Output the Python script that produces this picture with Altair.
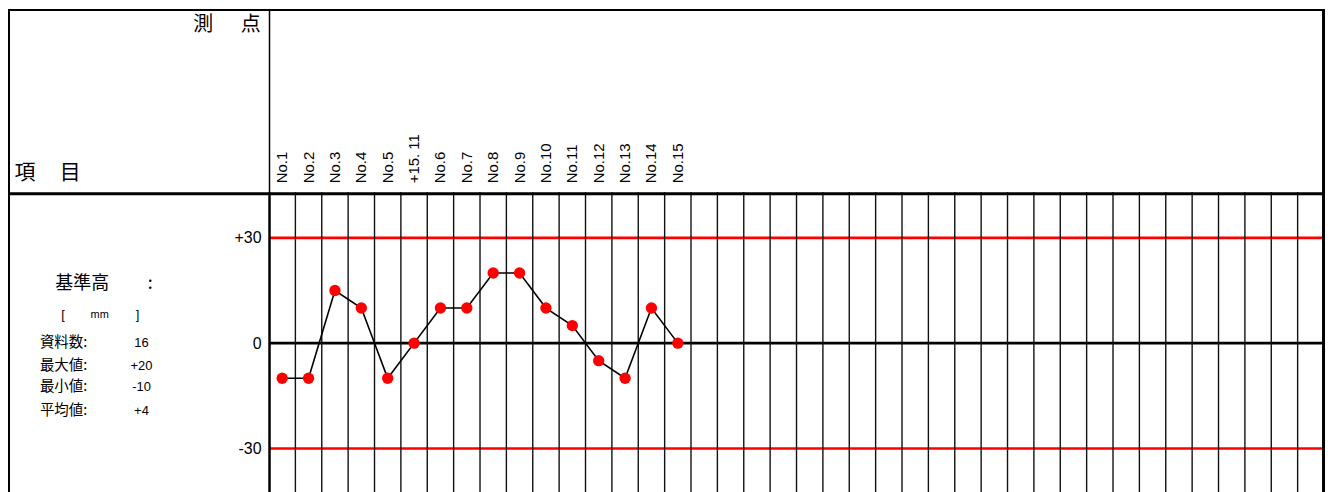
import altair as alt
import pandas as pd

# ---- data ----
labels = ["No.1", "No.2", "No.3", "No.4", "No.5", "+15. 11", "No.6", "No.7",
          "No.8", "No.9", "No.10", "No.11", "No.12", "No.13", "No.14", "No.15"]
values = [-10, -10, 15, 10, -10, 0, 10, 10, 20, 20, 10, 5, -5, -10, 10, 0]
n_columns = 40
limit_values = [30, -30]
axis_values = [30, 0, -30]
stat_names = ["資料数:", "最大値:", "最小値:", "平均値:"]
stat_values = ["16", "+20", "-10", "+4"]

# ---- layout ----
W = 1059          # plot body width
H = 310           # plot body height
PAD_L, PAD_T = 262, 184
JP = "Noto Sans CJK JP"
LAT = "Liberation Sans"

xscale = alt.Scale(domain=[0, n_columns], nice=False, zero=False)
yscale = alt.Scale(domain=[-45, 43], nice=False, zero=False)
yaxis = alt.Axis(values=axis_values, domain=False, ticks=False, tickSize=0,
                 grid=False, labelPadding=8, labelFontSize=16, labelFont=LAT,
                 labelColor="black", title=None,
                 labelExpr="datum.value > 0 ? '+' + datum.value : '' + datum.value")

df = pd.DataFrame({"label": labels, "value": values})
df["pos"] = [i + 0.5 for i in range(len(labels))]
grid_df = pd.DataFrame({"col": list(range(1, n_columns))})
lim_df = pd.DataFrame({"v": limit_values})
zero_df = pd.DataFrame({"v": [0]})
dummy = pd.DataFrame({"a": [0]})

X = lambda f: alt.X(f, scale=xscale, axis=None)
Y = lambda f: alt.Y(f, scale=yscale, axis=yaxis)

grid = alt.Chart(grid_df).mark_rule(color="#111", strokeWidth=1.4).encode(
    x=X("col:Q"), y=alt.value(0), y2=alt.value(H + 20))

limits = alt.Chart(lim_df).mark_rule(color="#ff0000", strokeWidth=2.6).encode(
    y=Y("v:Q"), x=alt.value(0), x2=alt.value(W))

zero = alt.Chart(zero_df).mark_rule(color="black", strokeWidth=2.6).encode(
    y=Y("v:Q"), x=alt.value(0), x2=alt.value(W))

line = alt.Chart(df).mark_line(color="black", strokeWidth=1.6).encode(
    x=X("pos:Q"), y=Y("value:Q"), order="pos:Q")

pts = alt.Chart(df).mark_circle(color="#ff0000", size=130, opacity=1).encode(
    x=X("pos:Q"), y=Y("value:Q"))

head = alt.Chart(df).mark_text(angle=270, align="left", baseline="middle",
                               fontSize=15, font=LAT, color="black").encode(
    x=X("pos:Q"), y=alt.value(-9), text="label:N")

def rule(x, x2, y, y2, sw, color="black"):
    return alt.Chart(dummy).mark_rule(color=color, strokeWidth=sw).encode(
        x=alt.value(x), x2=alt.value(x2), y=alt.value(y), y2=alt.value(y2))

frame = [
    rule(-PAD_L, W + 1, -PAD_T + 1, -PAD_T + 1, 2),        # top border
    rule(-PAD_L, W + 1, 1.5, 1.5, 3),                        # header/body separator
    rule(-PAD_L + 1, -PAD_L + 1, -PAD_T, H + 20, 2),        # left border
    rule(W - 0.5, W - 0.5, -PAD_T, H + 20, 3),               # right border
    rule(0.5, 0.5, -PAD_T, 0, 1.5),                          # separator header
    rule(0.5, 0.5, 0, H + 20, 2.5),                          # separator body
]

def txt(s, x, y, size, font=JP, align="center"):
    return alt.Chart(dummy).mark_text(text=s, fontSize=size, font=font, align=align,
                                      baseline="middle", color="black").encode(
        x=alt.value(x), y=alt.value(y))

texts = [
    txt("測", 204 - 270, 24 - 192, 20),
    txt("点", 251.5 - 270, 24 - 192, 20),
    txt("項", 25 - 270, 173 - 192, 21),
    txt("目", 70.5 - 270, 173 - 192, 21),
    txt("基準高", 82.5 - 270, 284 - 192, 18),
    txt(":", 150.7 - 270, 284 - 192, 18),
    txt("[", 63.3 - 270, 315 - 192, 13, LAT),
    txt("mm", 100 - 270, 315 - 192, 11, LAT),
    txt("]", 138 - 270, 315 - 192, 13, LAT),
]
stat_y = [343.3, 366, 387.7, 411.7]
for name, val, yy in zip(stat_names, stat_values, stat_y):
    texts.append(txt(name, 40 - 270, yy - 192, 14.5, JP, "left"))
    texts.append(txt(val, 142 - 270, yy - 192, 13, LAT))

chart = alt.layer(limits, zero, grid, line, pts, head, *frame, *texts).properties(
    width=W, height=H,
    autosize=alt.AutoSizeParams(type="none"),
    padding={"left": PAD_L, "top": PAD_T, "right": 4, "bottom": 0},
).configure_view(stroke=None)

chart.save("out.html", embed_options={"renderer": "svg", "actions": False})
